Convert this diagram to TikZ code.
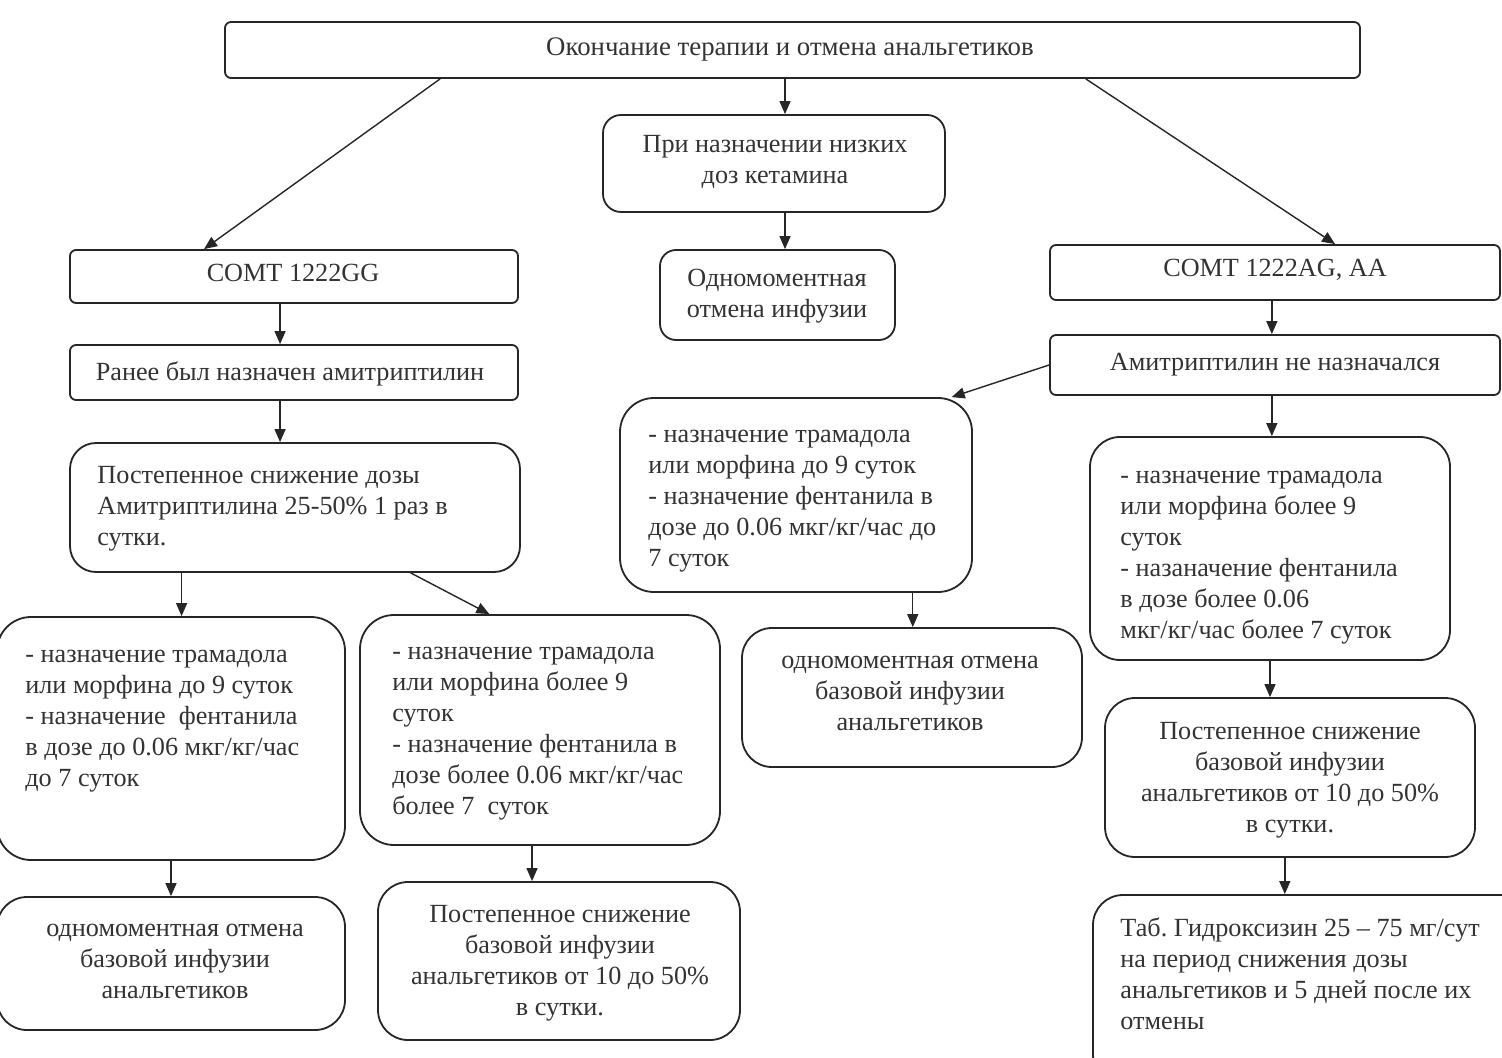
\documentclass[tikz,border=0pt]{standalone}
\usepackage{fontspec}
\setmainfont{Liberation Serif}
\usetikzlibrary{arrows.meta,calc}
\frenchspacing
\tikzset{
  bx/.style={draw=black!85, line width=0.9pt, inner sep=0pt},
  txt/.style={inner sep=0pt, font=\fontsize{13.1}{15.5}\selectfont, text=black!80},
  arr/.style={-{Triangle[length=6.5pt,width=5.5pt]}, line width=0.7pt, draw=black!85},
}
% name, x1, y1, x2, y2 (pixels), corner radius (pt)
\newcommand\mybox[6]{\node[bx, rounded corners=#6, minimum width={(#4-#2)*0.5pt}, minimum height={(#5-#3)*0.5pt}] (#1) at ({(#2+#4)/2},{(#3+#5)/2}) {};}
\begin{document}
\begin{tikzpicture}[x=0.5pt,y=-0.5pt]
\clip (0,0) rectangle (1502,1058);
\fill[white] (0,0) rectangle (1502,1058);

% boxes
\mybox{top}{225}{22}{1360}{78}{3pt}
\mybox{ket}{603}{115}{945}{212}{9pt}
\mybox{gg}{70}{250}{518}{303}{3pt}
\mybox{one}{660}{250}{895}{340}{8pt}
\mybox{ag}{1050}{245}{1500}{300}{3pt}
\mybox{ranee}{70}{345}{518}{400}{3pt}
\mybox{nn}{1050}{335}{1500}{395}{3pt}
\mybox{b8}{70}{443}{520}{572}{13pt}
\mybox{b9}{620}{398}{972}{592}{17pt}
\mybox{b10}{1090}{437}{1450}{660}{15pt}
\mybox{b11}{-3}{617}{345}{860}{17pt}
\mybox{b12}{360}{615}{720}{845}{17pt}
\mybox{b13}{742}{628}{1082}{767}{15pt}
\mybox{b14}{1105}{698}{1475}{857}{15pt}
\mybox{b15}{-3}{897}{345}{1030}{15pt}
\mybox{b16}{378}{882}{740}{1040}{15pt}
\mybox{b17}{1093}{895}{1530}{1085}{15pt}

% texts (anchor base = baseline of the last line)
\node[txt, anchor=base, font=\fontsize{13.4}{15.5}\selectfont] (ttop) at (790,56) {Окончание терапии и отмена анальгетиков};
\node[txt, anchor=base, align=center] (tket) at (775,184) {При назначении низких\\доз кетамина};
\node[txt, anchor=base] (tgg) at (293,282) {COMT 1222GG};
\node[txt, anchor=base, align=center] (tone) at (777,318) {Одномоментная\\отмена инфузии};
\node[txt, anchor=base] (tag) at (1275,277) {COMT 1222AG, AA};
\node[txt, anchor=base] (tranee) at (290,381) {Ранее был назначен амитриптилин};
\node[txt, anchor=base] (tnn) at (1275,371) {Амитриптилин не назначался};
\node[txt, anchor=base west, align=left] (t8) at (97,545) {Постепенное снижение дозы\\Амитриптилина 25-50\% 1 раз в\\сутки.};
\node[txt, anchor=base west, align=left] (t9) at (648,566) {- назначение трамадола\\или морфина до 9 суток\\- назначение фентанила в\\дозе до 0.06 мкг/кг/час до\\7 суток};
\node[txt, anchor=base west, align=left] (t10) at (1120,638) {- назначение трамадола\\или морфина более 9\\суток\\- назаначение фентанила\\в дозе более 0.06\\мкг/кг/час более 7 суток};
\node[txt, anchor=base west, align=left] (t11) at (25,786) {- назначение трамадола\\или морфина до 9 суток\\- назначение\ \ фентанила\\в дозе до 0.06 мкг/кг/час\\до 7 суток};
\node[txt, anchor=base west, align=left] (t12) at (392,814) {- назначение трамадола\\или морфина более 9\\суток\\- назначение фентанила в\\дозе более 0.06 мкг/кг/час\\более 7\ \ суток};
\node[txt, anchor=base, align=center] (t13) at (910,730) {одномоментная отмена\\базовой инфузии\\анальгетиков};
\node[txt, anchor=base, align=center] (t14) at (1290,832) {Постепенное снижение\\базовой инфузии\\анальгетиков от 10 до 50\%\\в сутки.};
\node[txt, anchor=base, align=center] (t15) at (175,998) {одномоментная отмена\\базовой инфузии\\анальгетиков};
\node[txt, anchor=base, align=center] (t16) at (560,1015) {Постепенное снижение\\базовой инфузии\\анальгетиков от 10 до 50\%\\в сутки.};
\node[txt, anchor=base west, align=left] (t17) at (1120,1029) {Таб. Гидроксизин 25 – 75 мг/сут\\на период снижения дозы\\анальгетиков и 5 дней после их\\отмены};

% connectors
\draw[arr] ($(top.south west)!0.19!(top.south east)$) -- ($(gg.north west)!0.30!(gg.north east)$);
\draw[arr] ($(ket.north west)!0.532!(ket.north east)$) coordinate (k1) (top.south -| k1) -- (k1);
\draw[arr] ($(top.south west)!0.758!(top.south east)$) -- ($(ag.north west)!0.633!(ag.north east)$);
\draw[arr] ($(ket.south west)!0.532!(ket.south east)$) coordinate (k2) -- (k2 |- one.north);
\draw[arr] ($(gg.south west)!0.469!(gg.south east)$) coordinate (g1) -- (g1 |- ranee.north);
\draw[arr] ($(ranee.south west)!0.469!(ranee.south east)$) coordinate (r1) -- (r1 |- b8.north);
\draw[arr] ($(b8.south west)!0.249!(b8.south east)$) coordinate (p1) -- (p1 |- b11.north);
\draw[arr] ($(b8.south west)!0.756!(b8.south east)$) -- ($(b12.north west)!0.36!(b12.north east)$);
\draw[arr] (b11.south) -- (b11.south |- b15.north);
\draw[arr] ($(b12.south west)!0.478!(b12.south east)$) coordinate (q1) -- (q1 |- b16.north);
\draw[arr] ($(ag.south west)!0.493!(ag.south east)$) coordinate (a1) -- (a1 |- nn.north);
\draw[arr] (nn.west) -- ($(b9.north west)!0.94!(b9.north east)$);
\draw[arr] ($(nn.south west)!0.493!(nn.south east)$) coordinate (n1) -- (n1 |- b10.north);
\draw[arr] ($(b9.south west)!0.83!(b9.south east)$) coordinate (p2) -- (p2 |- b13.north);
\draw[arr] (b10.south) -- (b10.south |- b14.north);
\draw[arr] ($(b14.south west)!0.486!(b14.south east)$) coordinate (s1) -- (s1 |- b17.north);
\end{tikzpicture}
\end{document}
